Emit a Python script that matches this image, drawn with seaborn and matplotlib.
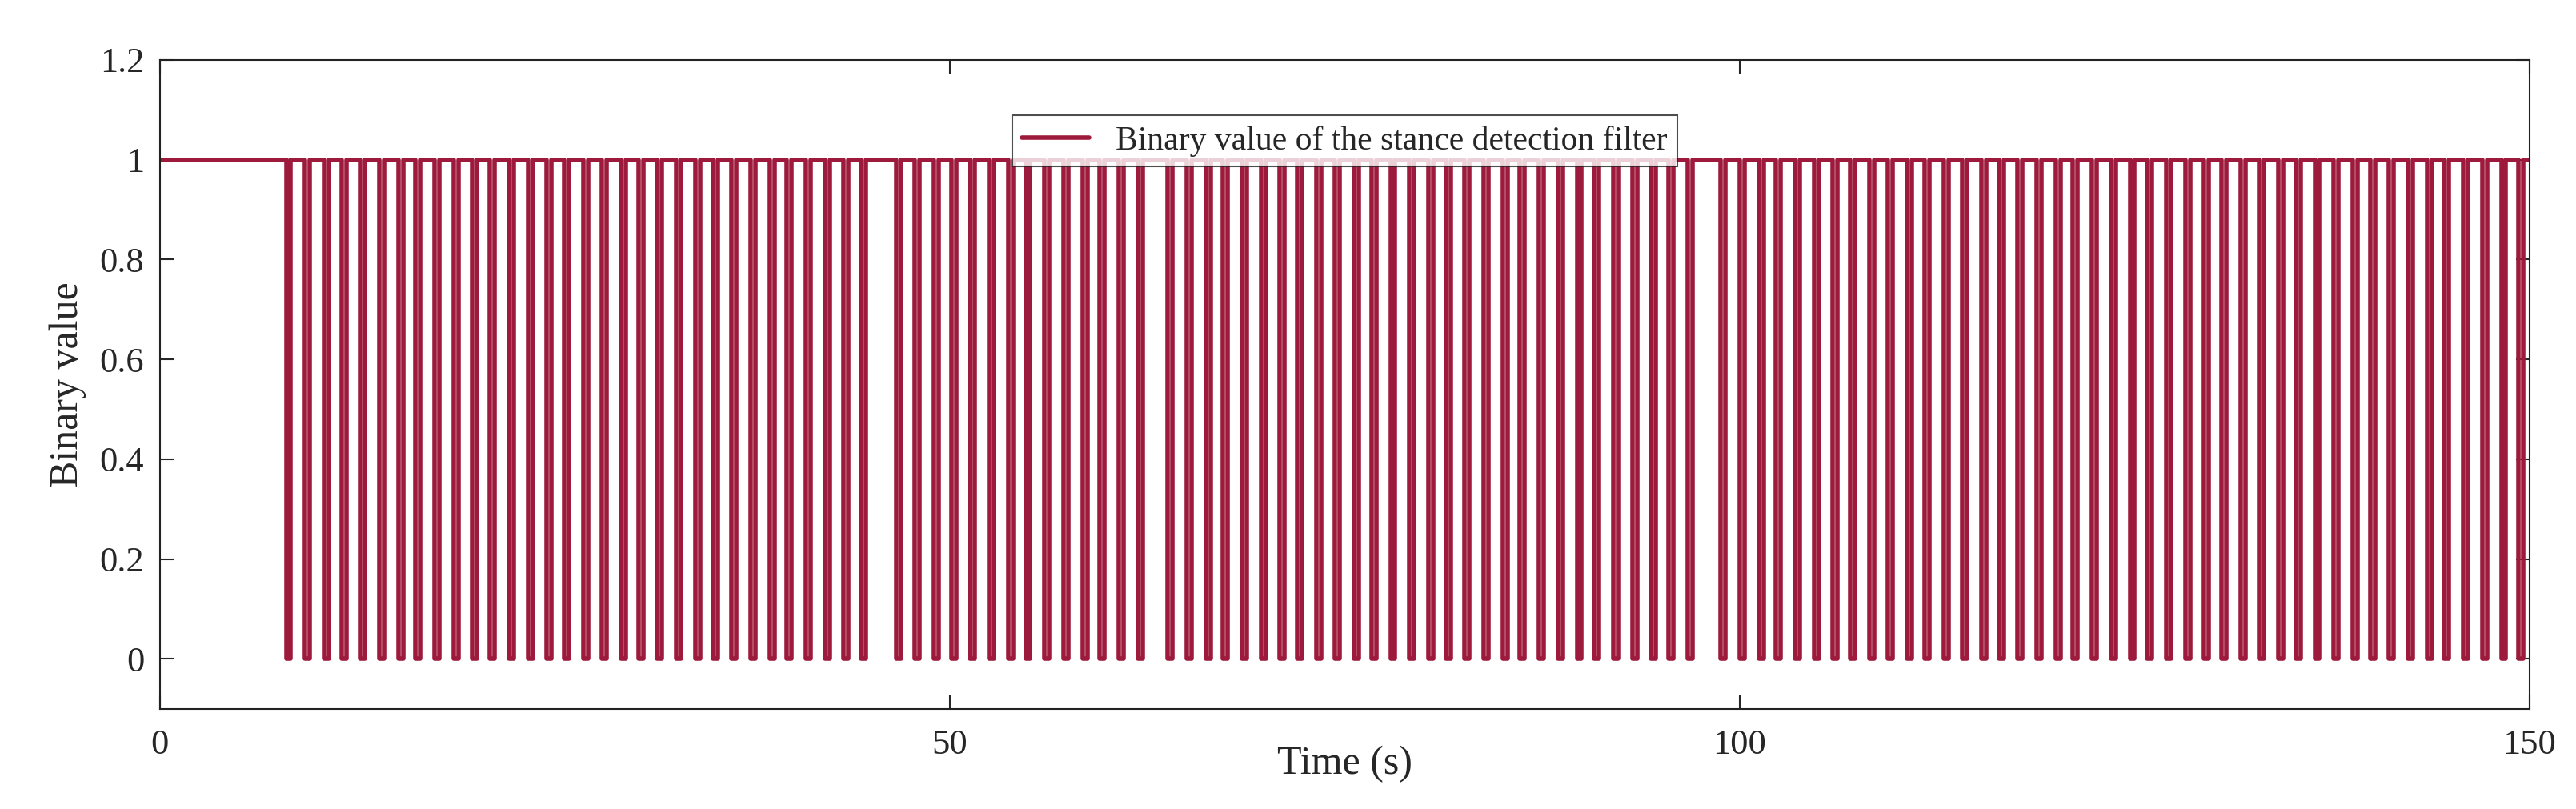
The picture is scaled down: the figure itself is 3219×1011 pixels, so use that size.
import numpy as np
import pandas as pd
import matplotlib
matplotlib.use('Agg')
import matplotlib.pyplot as plt
import seaborn as sns

# times (s) where the stance filter drops to 0
down_times = [8.0, 9.2, 10.4, 11.5, 12.7, 13.9, 15.1, 16.2, 17.4, 18.6, 19.8, 20.9, 22.1, 23.3,
              24.5, 25.6, 26.8, 28.0, 29.2, 30.3, 31.5, 32.7, 33.9, 35.0, 36.2, 37.4, 38.6, 39.7,
              40.9, 42.1, 43.3, 44.4, 46.6, 47.8, 49.0, 50.1, 51.3, 52.5, 53.7, 54.8, 56.0, 57.2,
              58.4, 59.5, 60.7, 61.9, 63.8, 65.0, 66.2, 67.3, 68.5, 69.7, 70.9, 72.0, 73.2, 74.4,
              75.6, 76.7, 77.9, 79.1, 80.3, 81.4, 82.6, 83.8, 85.0, 86.1, 87.3, 88.5, 89.7, 90.8,
              92.0, 93.2, 94.4, 95.5, 96.7, 98.8, 100.0, 101.2, 102.3, 103.5, 104.7, 105.9, 107.0,
              108.2, 109.4, 110.6, 111.7, 112.9, 114.1, 115.3, 116.4, 117.6, 118.8, 120.0, 121.1,
              122.3, 123.5, 124.7, 125.8, 127.0, 128.2, 129.4, 130.5, 131.7, 132.9, 134.1, 135.2,
              136.4, 137.6, 138.8, 139.9, 141.1, 142.3, 143.5, 144.6, 145.8, 147.0, 148.2, 149.3]
# time (s) each drop stays at 0
down_duration = 0.3
t_start, t_end = 0.0, 150.0

t = [t_start]
v = [1]
for d in down_times:
    t += [d, min(d + down_duration, t_end)]
    v += [0, 1]
t.append(t_end)
v.append(v[-1])
df = pd.DataFrame({'t': t, 'v': v})

sns.set_style('white')
plt.rcParams['font.family'] = ['Liberation Serif', 'DejaVu Serif']

fig = plt.figure(figsize=(32.19, 10.11), dpi=100)
ax = fig.add_axes([0.062, 0.124, 0.92, 0.802])
sns.lineplot(data=df, x='t', y='v', ax=ax, color='#9e1a3c', linewidth=4,
             drawstyle='steps-post', estimator=None, sort=False,
             label='Binary value of the stance detection filter')

ax.set_xlim(0, 150)
ax.set_ylim(-0.1, 1.2)
ax.set_xticks([0, 50, 100, 150])
ax.set_yticks([0, 0.2, 0.4, 0.6, 0.8, 1, 1.2])
ax.set_yticklabels(['0', '0.2', '0.4', '0.6', '0.8', '1', '1.2'])
ax.tick_params(labelsize=32, direction='in', length=12, width=1.5, top=True, right=True,
               bottom=True, left=True)
ax.tick_params(axis='x', pad=18)
ax.tick_params(axis='y', pad=14)
ax.set_xlabel('Time (s)', fontsize=36, labelpad=-14)
ax.set_ylabel('Binary value', fontsize=36, labelpad=12)
for s in ax.spines.values():
    s.set_color('#222222')
    s.set_linewidth(1.5)
leg = ax.legend(loc='upper center', bbox_to_anchor=(0.5, 0.94), fontsize=30, frameon=True,
                fancybox=False, edgecolor='#222222', handlelength=2.0, borderpad=0.3)
leg.get_frame().set_linewidth(1.5)

fig.savefig('out.png', dpi=100)
